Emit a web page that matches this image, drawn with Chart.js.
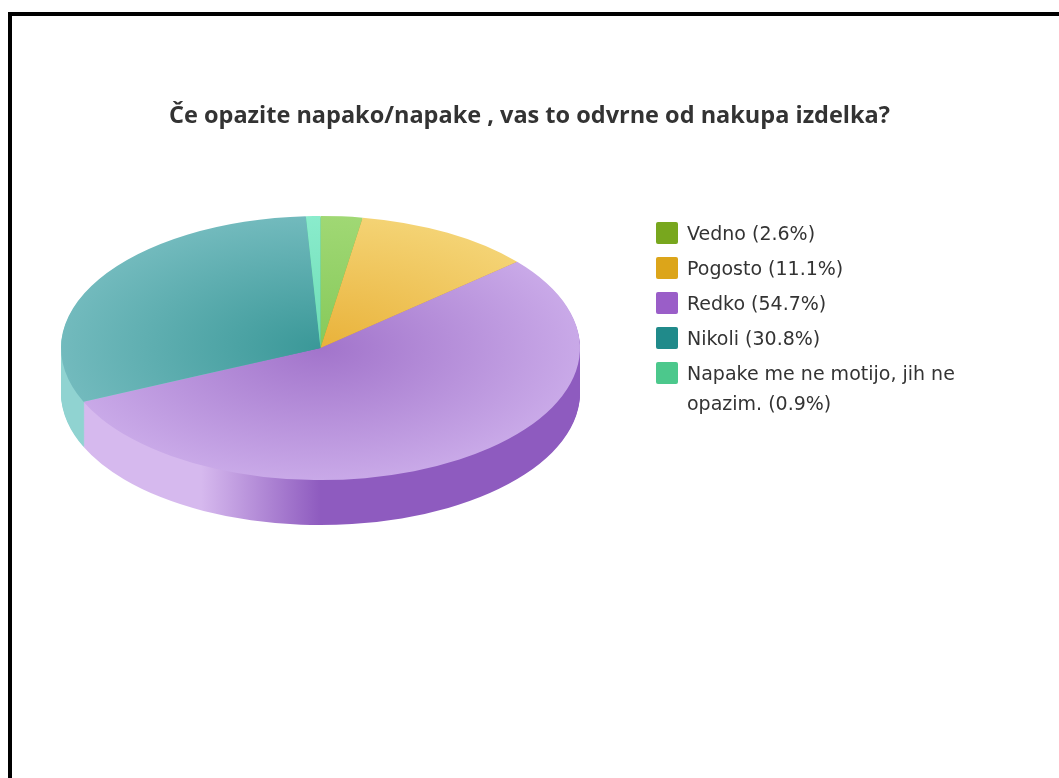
<!DOCTYPE html>
<html>
<head>
<meta charset="utf-8">
<script src="https://cdn.jsdelivr.net/npm/chart.js@4.4.1/dist/chart.umd.min.js"></script>
<style>
  html, body { margin: 0; padding: 0; background: #fff; overflow: hidden; }
  body { width: 1059px; height: 778px; position: relative; }
  #chart { position: absolute; left: 0; top: 0; }
  .frame {
    position: absolute; left: 8px; top: 12px; width: 1100px; height: 800px;
    border-left: 4px solid #000; border-top: 4px solid #000; pointer-events: none;
  }
  .legend {
    position: absolute; left: 656px; top: 218px;
    font-family: "DejaVu Sans", sans-serif; font-size: 19px; color: #333;
  }
  .legend .item { position: relative; padding-left: 31px; line-height: 30px; margin-bottom: 5px; width: 320px; }
  .legend .box { position: absolute; left: 0; top: 4px; width: 22px; height: 22px; border-radius: 2px; }
</style>
</head>
<body>
<canvas id="chart" width="1059" height="778"></canvas>
<div class="frame"></div>
<div class="legend" id="legend"></div>
<script>
const title = 'Če opazite napako/napake , vas to odvrne od nakupa izdelka?';
const labels = ['Vedno', 'Pogosto', 'Redko', 'Nikoli', 'Napake me ne motijo, jih ne opazim.'];
const percents = [2.6, 11.1, 54.7, 30.8, 0.9];

// legend squares
const legendColors = ['#78a71e', '#dca51a', '#9a5ec8', '#208a8a', '#4cc88c'];
// top face (centre -> rim) and side wall (light -> dark)
const topInner = ['#86c95a', '#e9b23a', '#a274cb', '#3a9898', '#6cdcb5'];
const topOuter = ['#a0d874', '#f4d374', '#c9a9e8', '#72babd', '#8aeccc'];
const sideLight = ['#a6d880', '#f6d98a', '#d6b9ee', '#90d3d1', '#9eeccf'];
const sideDark = ['#6ea83a', '#d9a21e', '#8e5bbf', '#2f8c8d', '#4cc28e'];

const PIE_X = 320.5, PIE_Y = 348, RADIUS = 259.5, TILT = 0.509, DEPTH = 45;

// legend
const legendEl = document.getElementById('legend');
labels.forEach((l, i) => {
    const item = document.createElement('div');
    item.className = 'item';
    item.innerHTML = '<span class="box" style="background:' + legendColors[i] + '"></span>' +
        l + ' (' + percents[i].toFixed(1) + '%)';
    legendEl.appendChild(item);
});

const sideCache = [];
function sideFill(ctx, ox, i) {
    if (!sideCache[i]) {
        const g = ctx.createLinearGradient(ox - RADIUS, 0, ox + RADIUS, 0);
        g.addColorStop(0, sideLight[i]);
        g.addColorStop(0.27, sideLight[i]);
        g.addColorStop(0.5, sideDark[i]);
        g.addColorStop(1, sideDark[i]);
        sideCache[i] = g;
    }
    return sideCache[i];
}

// squash the pie into an ellipse and give it a wall
const pie3d = {
    id: 'pie3d',
    beforeDatasetsDraw(chart) {
        const ctx = chart.ctx;
        const arcs = chart.getDatasetMeta(0).data;
        const ox = arcs[0].x, oy = arcs[0].y;
        for (let d = DEPTH; d > 0; d--) {
            ctx.save();
            ctx.translate(PIE_X, PIE_Y + d);
            ctx.scale(1, TILT);
            ctx.translate(-ox, -oy);
            arcs.forEach((arc, i) => {
                ctx.fillStyle = sideFill(ctx, ox, i);
                ctx.beginPath();
                ctx.moveTo(arc.x, arc.y);
                ctx.arc(arc.x, arc.y, arc.outerRadius, arc.startAngle, arc.endAngle);
                ctx.closePath();
                ctx.fill();
            });
            ctx.restore();
        }
        ctx.save();
        ctx.translate(PIE_X, PIE_Y);
        ctx.scale(1, TILT);
        ctx.translate(-ox, -oy);
    },
    afterDatasetsDraw(chart) {
        chart.ctx.restore();
    }
};

new Chart(document.getElementById('chart').getContext('2d'), {
    type: 'pie',
    data: {
        labels: labels,
        datasets: [{
            data: percents,
            clip: false,
            borderWidth: 0,
            backgroundColor: (c) => {
                const a = c.chart.chartArea;
                const i = c.dataIndex;
                if (!a) return topOuter[i];
                const x = (a.left + a.right) / 2, y = (a.top + a.bottom) / 2;
                const g = c.chart.ctx.createRadialGradient(x, y, 0, x, y, RADIUS);
                g.addColorStop(0, topInner[i]);
                g.addColorStop(1, topOuter[i]);
                return g;
            }
        }]
    },
    options: {
        responsive: false,
        animation: false,
        events: [],
        radius: RADIUS,
        plugins: {
            legend: { display: false },
            tooltip: { enabled: false },
            title: {
                display: true,
                text: title,
                color: '#333',
                font: { family: 'Open Sans', weight: 'bold', size: 23.5 },
                padding: { top: 102, bottom: 0 }
            }
        }
    },
    plugins: [pie3d]
});
</script>
</body>
</html>
